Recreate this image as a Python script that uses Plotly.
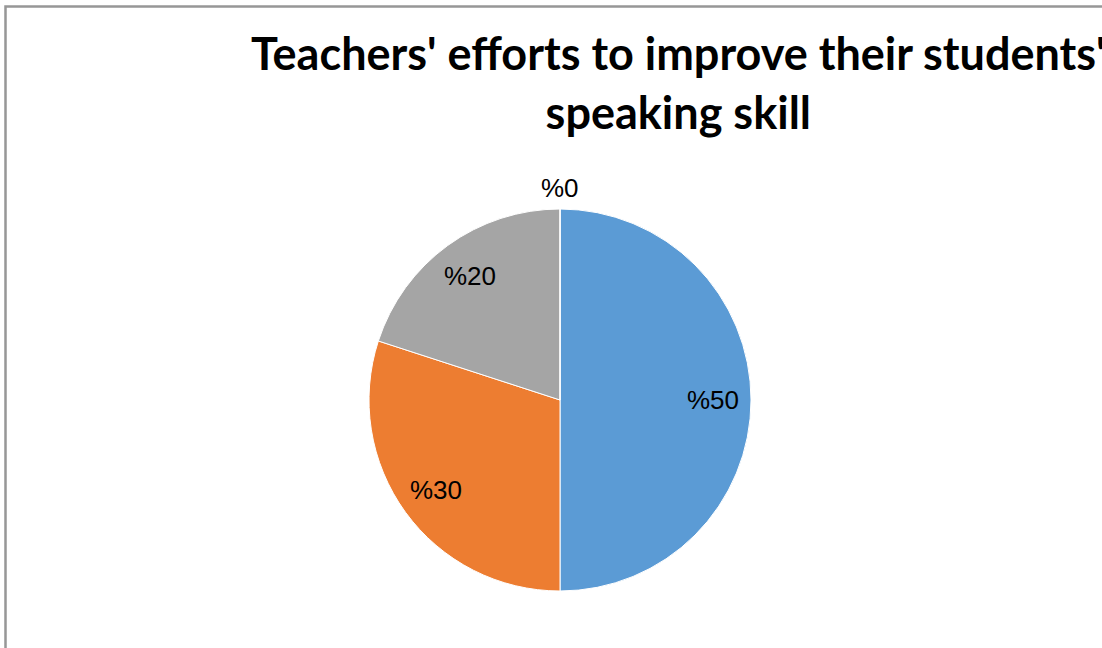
import math
import plotly.graph_objects as go

# ---- data ----
categories = ["A", "B", "C", "D"]
values = [50, 30, 20, 0]
value_labels = ["%50", "%30", "%20", "%0"]
colors = ["#5B9BD5", "#ED7D31", "#A5A5A5", "#FFC000"]
title_lines = ["Teachers' efforts to improve their students'", "speaking skill"]

W, H = 1102, 648
cx_px, cy_px, r_px = 560, 400, 191

dom_x = [(cx_px - r_px) / W, (cx_px + r_px) / W]
dom_y = [(H - cy_px - r_px) / H, (H - cy_px + r_px) / H]

fig = go.Figure()
fig.add_trace(go.Pie(
    labels=categories,
    values=values,
    sort=False,
    direction="clockwise",
    rotation=0,
    marker=dict(colors=colors, line=dict(color="white", width=1)),
    textinfo="none",
    hoverinfo="label+value",
    showlegend=False,
    domain=dict(x=dom_x, y=dom_y),
))

# data labels positioned along slice mid-angles
total = sum(values)
cum = 0.0
annotations = []
for v, lab in zip(values, value_labels):
    mid = (cum + v / 2.0) / total * 2 * math.pi
    cum += v
    k = 0.8 if v > 0 else 1.11
    px = cx_px + k * r_px * math.sin(mid)
    py = (H - cy_px) + k * r_px * math.cos(mid)
    annotations.append(dict(
        x=px / W, y=py / H, xref="paper", yref="paper",
        text=lab, showarrow=False, xanchor="center", yanchor="middle",
        font=dict(family="Liberation Sans, Arial", size=26, color="black"),
    ))

# title as annotation
annotations.append(dict(
    x=678 / W, y=1 - 24 / H, xref="paper", yref="paper",
    xanchor="center", yanchor="top",
    text="<br>".join(title_lines), showarrow=False,
    font=dict(family="Lato, Open Sans, sans-serif", size=45, color="black", weight="bold"),
))

fig.update_layout(
    width=W, height=H,
    margin=dict(l=0, r=0, t=0, b=0),
    paper_bgcolor="white",
    plot_bgcolor="white",
    annotations=annotations,
    shapes=[dict(
        type="rect", xref="paper", yref="paper",
        x0=5.5 / W, x1=1.2, y0=-0.2, y1=1 - 6.5 / H,
        line=dict(color="#979797", width=2.5),
        fillcolor="rgba(0,0,0,0)", layer="above",
    )],
)

fig.write_html(
    "out.html",
    config={"displayModeBar": False},
    post_script="document.body.style.margin='0';",
)
